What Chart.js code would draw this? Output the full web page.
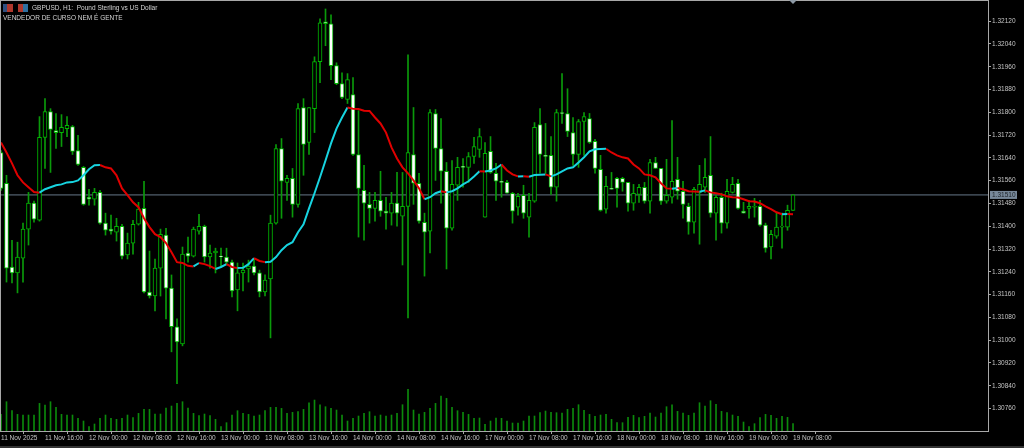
<!DOCTYPE html>
<html>
<head>
<meta charset="utf-8">
<title>GBPUSD H1</title>
<script src="https://cdn.jsdelivr.net/npm/chart.js@4/dist/chart.umd.min.js"></script>
<style>
html, body { margin: 0; padding: 0; background: #000; overflow: hidden; }
canvas { display: block; }
</style>
</head>
<body>
<canvas id="myChart" width="1024" height="448"></canvas>
<script>
const symbolTitle = "GBPUSD, H1:  Pound Sterling vs US Dollar";
const commentText = "VENDEDOR DE CURSO NEM É GENTE";
const bidPrice = 1.31510;

const timeLabels = ["11 Nov 2025","11 Nov 16:00","12 Nov 00:00","12 Nov 08:00","12 Nov 16:00","13 Nov 00:00","13 Nov 08:00","13 Nov 16:00","14 Nov 00:00","14 Nov 08:00","14 Nov 16:00","17 Nov 00:00","17 Nov 08:00","17 Nov 16:00","18 Nov 00:00","18 Nov 08:00","18 Nov 16:00","19 Nov 00:00","19 Nov 08:00"];
const priceTicks = [1.32120,1.32040,1.31960,1.31880,1.31800,1.31720,1.31640,1.31560,1.31480,1.31400,1.31320,1.31240,1.31160,1.31080,1.31000,1.30920,1.30840,1.30760];

const opens = [
1.31659,1.31551,1.31257,1.31236,1.31288,1.31390,1.31481,1.31421,1.31712,1.31803,
1.31736,1.31729,1.31743,1.31750,1.31666,1.31607,1.31502,1.31495,1.31519,1.31411,
1.31390,1.31379,1.31400,1.31299,1.31341,1.31407,1.31463,1.31169,1.31155,1.31253,
1.31369,1.31183,1.31047,1.30987,1.31306,1.31295,1.31383,1.31400,1.31292,1.31306,
1.31295,1.31292,1.31274,1.31176,1.31236,1.31250,1.31260,1.31236,1.31169,1.31215,
1.31411,1.31673,1.31554,1.31568,1.31477,1.31817,1.31694,1.31813,1.31978,1.32118,
1.32111,1.31964,1.31901,1.31845,1.31862,1.31652,1.31526,1.31477,1.31463,1.31491,
1.31453,1.31446,1.31481,1.31435,1.31470,1.31652,1.31551,1.31414,1.31383,1.31796,
1.31673,1.31593,1.31393,1.31544,1.31610,1.31607,1.31645,1.31670,1.31432,1.31663,
1.31586,1.31558,1.31554,1.31516,1.31467,1.31509,1.31432,1.31488,1.31757,1.31649,
1.31649,1.31537,1.31799,1.31796,1.31729,1.31652,1.31768,1.31778,1.31698,1.31600,
1.31460,1.31533,1.31568,1.31568,1.31554,1.31481,1.31512,1.31537,1.31488,1.31624,
1.31603,1.31488,1.31502,1.31565,1.31523,1.31470,1.31414,1.31519,1.31537,1.31579,
1.31446,1.31502,1.31411,1.31519,1.31551,1.31453,1.31463,1.31467,1.31470,1.31404,
1.31327,1.31365,1.31397,1.31397,1.31456];
const closes = [
1.31533,1.31253,1.31236,1.31292,1.31390,1.31481,1.31425,1.31712,1.31803,1.31740,
1.31729,1.31747,1.31754,1.31663,1.31617,1.31477,1.31495,1.31519,1.31411,1.31386,
1.31383,1.31400,1.31295,1.31341,1.31407,1.31460,1.31169,1.31155,1.31253,1.31372,
1.31183,1.31047,1.30994,1.31302,1.31295,1.31390,1.31400,1.31292,1.31306,1.31313,
1.31292,1.31274,1.31173,1.31236,1.31246,1.31260,1.31236,1.31169,1.31211,1.31411,
1.31673,1.31558,1.31568,1.31477,1.31813,1.31687,1.31817,1.31978,1.32114,1.32111,
1.31964,1.31901,1.31852,1.31915,1.31652,1.31533,1.31481,1.31463,1.31491,1.31453,
1.31446,1.31481,1.31446,1.31470,1.31659,1.31551,1.31418,1.31379,1.31799,1.31673,
1.31593,1.31393,1.31547,1.31607,1.31607,1.31645,1.31680,1.31715,1.31656,1.31589,
1.31558,1.31554,1.31516,1.31453,1.31505,1.31446,1.31491,1.31747,1.31652,1.31645,
1.31537,1.31799,1.31796,1.31733,1.31652,1.31768,1.31785,1.31694,1.31603,1.31456,
1.31540,1.31530,1.31533,1.31554,1.31481,1.31516,1.31537,1.31488,1.31624,1.31603,
1.31488,1.31509,1.31558,1.31523,1.31477,1.31414,1.31530,1.31547,1.31572,1.31446,
1.31502,1.31411,1.31523,1.31547,1.31463,1.31446,1.31470,1.31470,1.31404,1.31323,
1.31372,1.31397,1.31400,1.31456,1.31510];
const highs = [
1.31666,1.31579,1.31351,1.31344,1.31411,1.31519,1.31488,1.31785,1.31848,1.31813,
1.31796,1.31792,1.31785,1.31754,1.31719,1.31610,1.31530,1.31533,1.31526,1.31446,
1.31439,1.31428,1.31407,1.31376,1.31421,1.31484,1.31558,1.31313,1.31285,1.31390,
1.31393,1.31229,1.31075,1.31327,1.31362,1.31397,1.31442,1.31404,1.31334,1.31323,
1.31323,1.31323,1.31281,1.31271,1.31271,1.31281,1.31285,1.31246,1.31229,1.31439,
1.31687,1.31708,1.31579,1.31603,1.31831,1.31848,1.31817,1.31995,1.32128,1.32163,
1.32142,1.31974,1.31939,1.31936,1.31922,1.31806,1.31614,1.31519,1.31519,1.31593,
1.31502,1.31519,1.31589,1.31589,1.32002,1.31817,1.31586,1.31446,1.31810,1.31810,
1.31778,1.31624,1.31631,1.31642,1.31638,1.31659,1.31712,1.31743,1.31694,1.31715,
1.31621,1.31614,1.31561,1.31519,1.31516,1.31544,1.31516,1.31764,1.31813,1.31761,
1.31715,1.31810,1.31936,1.31883,1.31782,1.31775,1.31799,1.31796,1.31705,1.31649,
1.31575,1.31589,1.31572,1.31572,1.31554,1.31547,1.31547,1.31554,1.31635,1.31642,
1.31603,1.31635,1.31771,1.31642,1.31558,1.31481,1.31537,1.31614,1.31638,1.31715,
1.31509,1.31516,1.31565,1.31572,1.31565,1.31484,1.31491,1.31498,1.31491,1.31411,
1.31386,1.31446,1.31446,1.31474,1.31510];
const lows = [
1.31526,1.31204,1.31201,1.31166,1.31204,1.31334,1.31414,1.31418,1.31603,1.31589,
1.31673,1.31680,1.31715,1.31652,1.31614,1.31474,1.31474,1.31474,1.31407,1.31369,
1.31372,1.31348,1.31285,1.31285,1.31302,1.31404,1.31166,1.31148,1.31103,1.31155,
1.31075,1.30959,1.30847,1.30980,1.31274,1.31292,1.31372,1.31274,1.31253,1.31236,
1.31257,1.31264,1.31152,1.31103,1.31173,1.31204,1.31229,1.31152,1.31155,1.31008,
1.31407,1.31428,1.31491,1.31432,1.31467,1.31579,1.31652,1.31729,1.31904,1.32034,
1.31915,1.31897,1.31848,1.31831,1.31649,1.31362,1.31351,1.31411,1.31418,1.31435,
1.31390,1.31404,1.31400,1.31264,1.31078,1.31477,1.31411,1.31225,1.31306,1.31561,
1.31481,1.31250,1.31386,1.31491,1.31537,1.31554,1.31621,1.31642,1.31432,1.31586,
1.31491,1.31502,1.31516,1.31411,1.31439,1.31428,1.31362,1.31484,1.31586,1.31586,
1.31512,1.31488,1.31761,1.31715,1.31614,1.31607,1.31649,1.31691,1.31586,1.31453,
1.31446,1.31530,1.31467,1.31523,1.31453,1.31456,1.31484,1.31481,1.31446,1.31603,
1.31477,1.31481,1.31481,1.31495,1.31428,1.31372,1.31376,1.31337,1.31519,1.31432,
1.31351,1.31376,1.31393,1.31516,1.31460,1.31446,1.31428,1.31432,1.31400,1.31309,
1.31285,1.31358,1.31323,1.31386,1.31456];
const maValues = [
1.31694,1.31659,1.31621,1.31579,1.31554,1.31537,1.31520,1.31518,1.31530,1.31537,
1.31544,1.31547,1.31554,1.31555,1.31561,1.31579,1.31600,1.31614,1.31615,1.31607,
1.31603,1.31579,1.31533,1.31509,1.31484,1.31467,1.31428,1.31397,1.31372,1.31362,
1.31341,1.31309,1.31274,1.31271,1.31261,1.31259,1.31271,1.31267,1.31260,1.31250,
1.31257,1.31267,1.31257,1.31253,1.31254,1.31267,1.31288,1.31278,1.31274,1.31275,
1.31292,1.31316,1.31334,1.31344,1.31379,1.31407,1.31463,1.31516,1.31572,1.31631,
1.31691,1.31743,1.31782,1.31817,1.31813,1.31812,1.31806,1.31805,1.31782,1.31761,
1.31729,1.31677,1.31638,1.31607,1.31586,1.31561,1.31533,1.31495,1.31502,1.31516,
1.31523,1.31519,1.31523,1.31533,1.31547,1.31558,1.31575,1.31593,1.31592,1.31596,
1.31603,1.31617,1.31596,1.31582,1.31575,1.31576,1.31574,1.31580,1.31581,1.31582,
1.31575,1.31582,1.31593,1.31603,1.31607,1.31624,1.31642,1.31663,1.31670,1.31671,
1.31672,1.31659,1.31649,1.31642,1.31638,1.31617,1.31603,1.31582,1.31579,1.31572,
1.31551,1.31533,1.31532,1.31534,1.31530,1.31523,1.31522,1.31521,1.31526,1.31519,
1.31516,1.31512,1.31505,1.31502,1.31501,1.31495,1.31488,1.31487,1.31481,1.31470,
1.31460,1.31449,1.31442,1.31443,1.31442];
const tickVolumes = [
50,88,61,50,48,48,48,83,78,88,
71,50,48,48,38,30,13,21,38,48,
38,35,38,48,40,53,65,65,51,51,
69,75,83,88,69,53,46,51,46,35,
13,25,48,61,53,50,45,48,61,71,
71,68,53,56,58,65,85,93,79,73,
68,63,48,30,38,45,53,58,45,48,
45,48,53,79,125,63,51,56,68,83,
105,98,71,61,56,50,38,39,20,30,
39,38,30,24,24,30,45,45,55,60,
56,55,54,65,68,79,62,50,44,48,
50,35,25,25,41,47,40,44,54,42,
54,73,79,59,54,47,54,85,75,91,
80,59,55,48,44,27,13,22,40,50,
47,38,44,41,22];

const barIndex = opens.map((o, i) => i);
const lastSlot = 179.45;
const barsPerLabel = 8;
const axisFont = { family: "'Liberation Sans'", size: 6.5 };
const textColor = "#c4c4c4";
const frameColor = "#a8a8a8";
const bidColor = "#667788";

const mt5Frame = {
    id: "mt5Frame",
    beforeDraw(chart) {
        const ctx = chart.ctx;
        ctx.save();
        ctx.fillStyle = "#000";
        ctx.fillRect(0, 0, chart.width, chart.height);
        ctx.fillStyle = "#333";
        ctx.fillRect(0, 446, chart.width, 2);
        ctx.restore();
    },
    afterDraw(chart) {
        const ctx = chart.ctx;
        const area = chart.chartArea;
        ctx.save();
        ctx.strokeStyle = frameColor;
        ctx.lineWidth = 1;
        ctx.strokeRect(area.left - 0.5, area.top - 0.5, area.right - area.left + 1, area.bottom - area.top + 1);

        // little marker on top of the last bar
        const lastX = chart.scales.x.getPixelForValue(barIndex[barIndex.length - 1]);
        ctx.fillStyle = "#8d99a5";
        ctx.beginPath();
        ctx.moveTo(lastX - 4, 0);
        ctx.lineTo(lastX + 4, 0);
        ctx.lineTo(lastX, 4);
        ctx.fill();

        // bid price box
        const bidY = chart.scales.y.getPixelForValue(bidPrice);
        ctx.fillStyle = "#778899";
        ctx.fillRect(area.right + 2, bidY - 4, 27, 8);
        ctx.fillStyle = "#1c2228";
        ctx.font = "6.5px 'Liberation Sans'";
        ctx.textAlign = "left";
        ctx.textBaseline = "middle";
        ctx.fillText(bidPrice.toFixed(5), area.right + 4, bidY + 0.5);

        // window icons
        ctx.fillStyle = "#2f4f7f";
        ctx.fillRect(3, 4, 4, 8);
        ctx.fillStyle = "#b0382c";
        ctx.fillRect(7, 4, 6, 8);
        ctx.fillStyle = "#b0382c";
        ctx.fillRect(18, 4, 5, 8);
        ctx.fillStyle = "#2f6f9f";
        ctx.fillRect(23, 4, 5, 8);

        ctx.fillStyle = "#d4d4d4";
        ctx.font = "6.5px 'Liberation Sans'";
        ctx.fillText(symbolTitle, 32, 8);
        ctx.fillText(commentText, 3, 18.5);
        ctx.restore();
    }
};

function createChart() {
    const ctx = document.getElementById("myChart");
    new Chart(ctx, {
        data: {
            datasets: [{
                type: "line",
                label: "Bid",
                data: [{ x: 0, y: bidPrice }, { x: lastSlot, y: bidPrice }],
                borderColor: bidColor,
                borderWidth: 1,
                pointRadius: 0,
                order: 5
            }, {
                type: "bar",
                label: "Volume",
                yAxisID: "yVol",
                grouped: false,
                data: barIndex.map(i => ({ x: i, y: tickVolumes[i] })),
                backgroundColor: "#0c8a0c",
                barThickness: 1,
                order: 4
            }, {
                type: "bar",
                label: "Range",
                grouped: false,
                data: barIndex.map(i => ({ x: i, y: [lows[i], highs[i]] })),
                backgroundColor: "#0a9a0a",
                barThickness: 1,
                order: 3
            }, {
                type: "bar",
                label: "Body",
                grouped: false,
                data: barIndex.map(i => ({ x: i, y: [opens[i], closes[i]] })),
                backgroundColor: barIndex.map(i => opens[i] > closes[i] ? "#ffffff" : "#000000"),
                borderColor: "#00b800",
                borderWidth: 1,
                borderSkipped: false,
                barThickness: 4,
                order: 2
            }, {
                type: "line",
                label: "MA",
                data: barIndex.map(i => ({ x: i, y: maValues[i] })),
                borderWidth: 2,
                pointRadius: 0,
                borderColor: "#e00000",
                segment: {
                    borderColor: c => c.p1.parsed.y >= c.p0.parsed.y ? "#17d4e0" : "#e00000"
                },
                order: 1
            }]
        },
        options: {
            responsive: false,
            animation: false,
            layout: { padding: { left: 1, top: 1, right: 0, bottom: 0 } },
            plugins: {
                legend: { display: false },
                title: { display: false },
                tooltip: { enabled: false }
            },
            scales: {
                x: {
                    type: "linear",
                    min: 0,
                    max: lastSlot,
                    offset: false,
                    afterFit: s => { s.height = 17; s.paddingLeft = 0; s.paddingRight = 0; },
                    afterBuildTicks: s => {
                        s.ticks = timeLabels.map((t, i) => ({ value: i * barsPerLabel }));
                    },
                    grid: { drawOnChartArea: false, color: frameColor, tickLength: 3 },
                    border: { color: frameColor },
                    ticks: {
                        autoSkip: false,
                        maxRotation: 0,
                        minRotation: 0,
                        align: "start",
                        padding: 0,
                        color: textColor,
                        font: axisFont,
                        callback: v => timeLabels[v / barsPerLabel]
                    }
                },
                y: {
                    position: "right",
                    min: 1.30681,
                    max: 1.32191,
                    afterFit: s => { s.width = 36; s.paddingTop = 0; s.paddingBottom = 0; },
                    afterBuildTicks: s => {
                        s.ticks = priceTicks.map(v => ({ value: v }));
                    },
                    grid: { drawOnChartArea: false, color: frameColor, tickLength: 3 },
                    border: { color: frameColor },
                    ticks: {
                        autoSkip: false,
                        padding: 1,
                        color: textColor,
                        font: axisFont,
                        callback: v => v.toFixed(5)
                    }
                },
                yVol: {
                    display: false,
                    min: 0,
                    max: 1292
                }
            }
        },
        plugins: [mt5Frame]
    });
}
createChart();
</script>
</body>
</html>
